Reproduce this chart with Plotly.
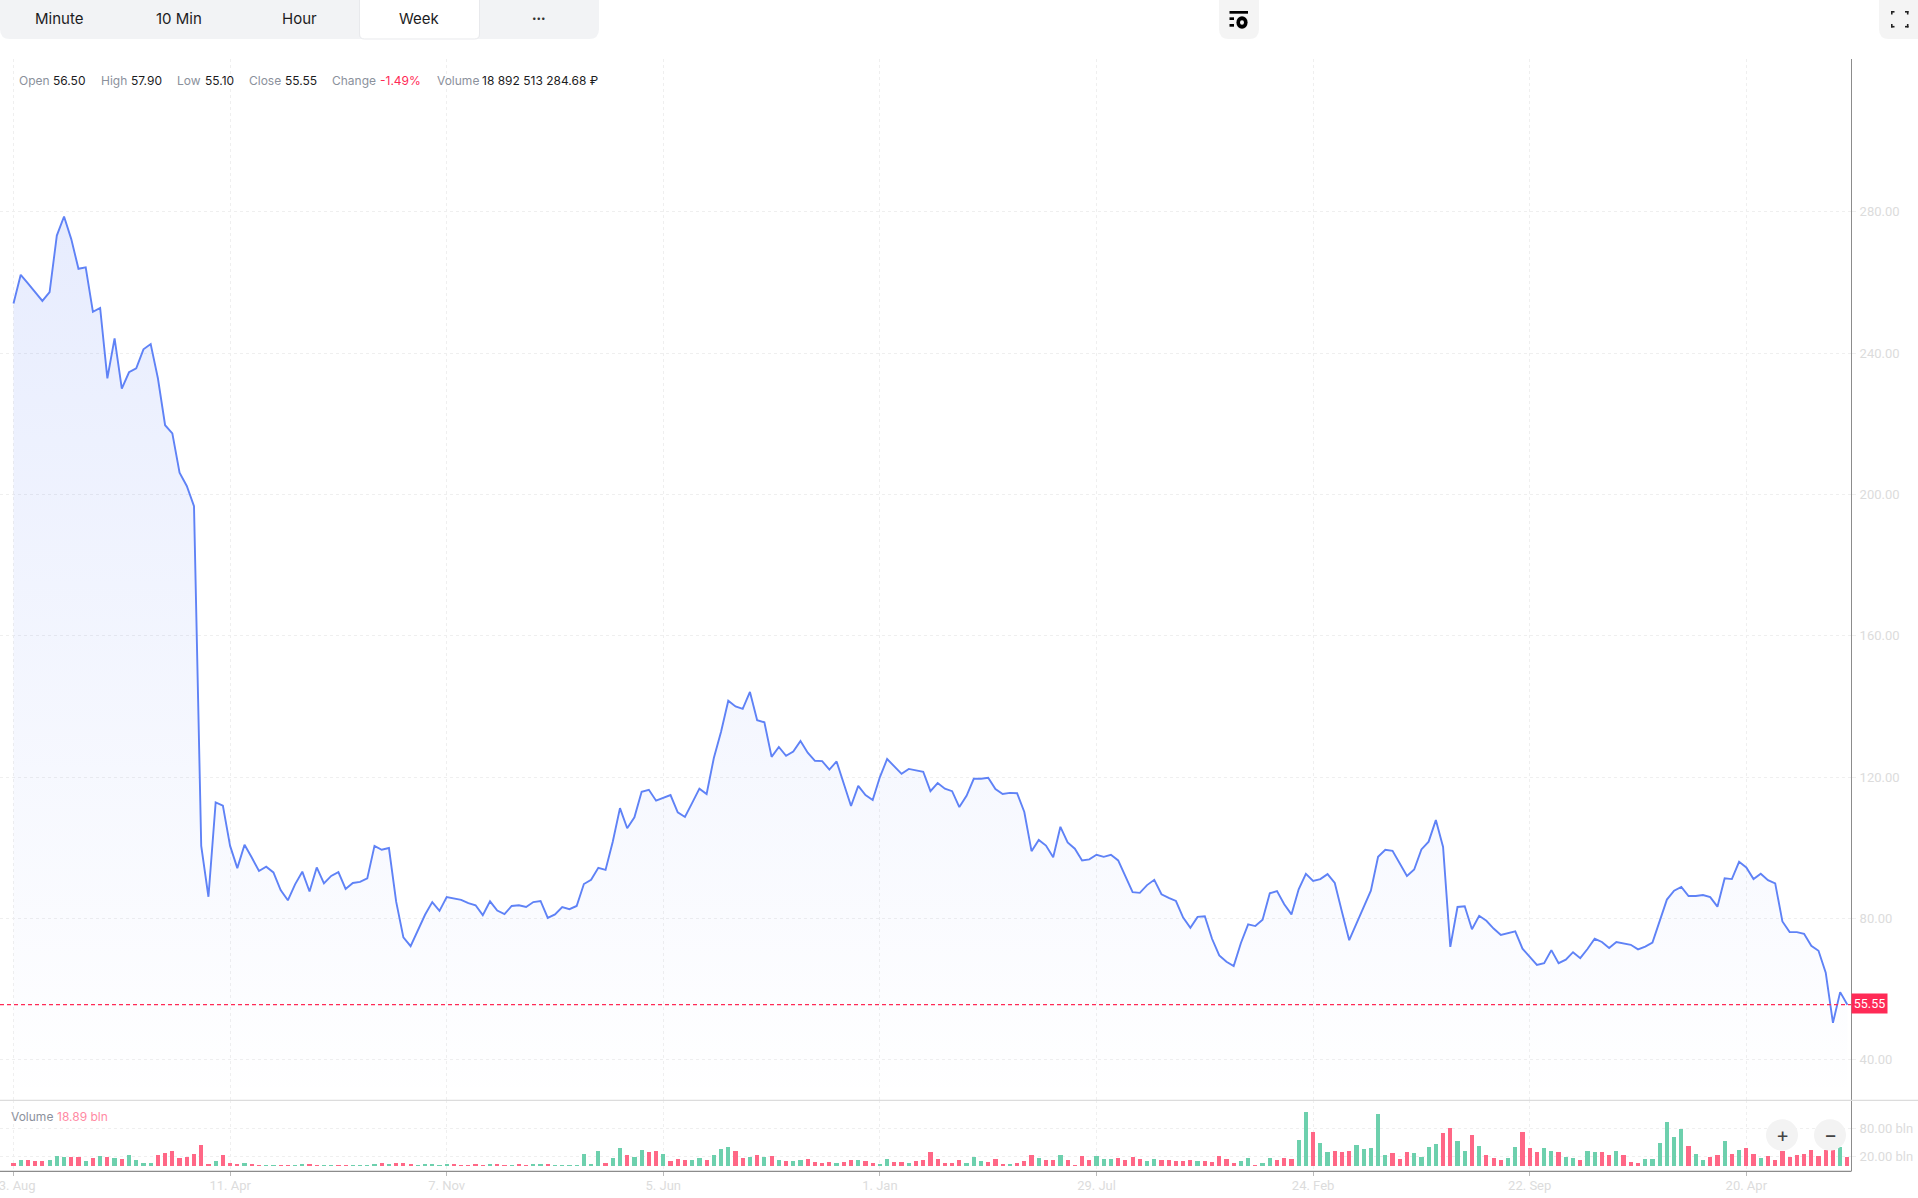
import plotly.graph_objects as go

W, H = 1918, 1198

close_prices = [
 254.1,262.2,259.8,257.3,254.8,257.3,273.3,278.7,272.3,263.9,
 264.3,251.7,252.8,232.9,244.2,230.0,234.6,235.7,241.1,242.6,
 232.9,219.6,217.3,206.2,202.4,196.7,100.5,86.1,112.8,111.9,
 100.5,94.2,100.8,97.2,93.4,94.6,93.0,88.0,85.1,89.6,
 93.2,87.6,94.4,89.9,92.0,93.1,88.3,90.0,90.3,91.3,
 100.5,99.4,99.9,84.7,74.6,72.1,76.5,81.0,84.6,82.1,
 86.0,85.6,85.2,84.3,83.7,80.9,84.8,82.2,81.2,83.5,
 83.7,83.2,84.6,84.9,80.1,81.1,83.2,82.6,83.5,89.7,
 90.9,94.3,93.7,101.7,111.2,105.5,108.6,115.8,116.4,113.3,
 114.2,114.9,110.0,108.7,112.7,116.7,115.2,125.4,132.8,141.6,
 140.0,139.3,144.1,136.1,135.5,125.7,128.5,126.0,127.2,130.2,
 126.9,124.6,124.5,122.1,124.4,118.0,111.8,117.5,114.9,113.5,
 120.0,125.1,122.9,120.9,122.3,121.8,121.5,116.0,118.3,116.7,
 116.0,111.5,114.7,119.5,119.5,119.8,116.6,115.2,115.5,115.4,
 110.1,99.0,102.2,100.6,97.3,105.9,101.5,99.7,96.4,96.7,
 98.0,97.4,98.0,96.4,91.7,87.4,87.2,89.4,90.9,86.8,
 85.8,84.9,80.2,77.3,80.4,80.6,74.2,69.5,67.7,66.5,
 73.0,78.3,77.8,79.6,87.1,87.7,84.0,81.1,88.2,92.6,
 90.6,91.1,92.5,90.0,81.8,73.8,78.5,83.2,87.8,97.4,
 99.4,99.1,95.5,92.0,93.8,99.5,101.7,107.8,100.2,71.9,
 83.2,83.4,76.9,80.7,79.3,77.1,75.3,75.8,76.3,71.4,
 69.1,66.8,67.3,71.0,67.3,68.3,70.4,68.7,71.3,74.2,
 73.3,71.6,73.3,73.0,72.5,71.2,72.0,73.1,79.2,85.3,
 87.8,88.9,86.3,86.3,86.6,86.0,83.3,91.3,91.1,96.0,
 94.4,91.1,92.6,90.8,89.9,79.1,76.1,76.1,75.6,72.2,
 70.8,64.6,50.4,59.1,55.55,
]

volumes_bln = [
 6.3,12.6,12.6,10.5,10.5,12.6,21,18.9,18.9,18.9,
 10.5,16.8,21,18.9,16.8,14.7,23,12.6,6.3,6.3,
 23,27.3,31.5,16.8,18.9,25.2,44,4.2,10.5,23,
 6.3,4.2,6.3,2,0.7,1.5,1.5,1.5,1.5,1.5,
 4,4,1.5,1.5,1.5,1.5,1.5,1.5,1.5,1.5,
 4,6,4,6,6,4,1.5,4,4,1.5,
 4,4,1.5,0.7,4,1.5,4,4,0.7,1.5,
 4,1.5,4,4,4,1.5,1.5,1.5,1.5,25,
 4,31,6,17,38,23,19,33.5,29,31,
 25,10.5,14.7,12.6,12.6,16.8,12.6,23,35.6,40,
 31.5,16.8,19,23,19,21,12.6,10.5,10.5,12.6,
 14.7,8.4,6.3,8.4,6.3,8.4,12.6,12.6,10.5,6.3,
 4.2,14.7,8.4,8.4,6.3,10.5,12.6,29,14.7,6.3,
 6.3,12.6,6.3,19,10.5,8.4,14.7,4.2,4.2,6.3,
 10.5,23,16.8,12.6,12.6,23,12.6,1.4,21,12.6,
 21,14.7,14.7,16.8,12.6,19,14.7,10.5,14.7,12.6,
 12.6,10.5,10.5,12.6,10.5,10.5,8.4,21,14.7,6.3,
 10.5,16.8,1.4,6.3,16.8,12.6,17,14.7,54.5,113,
 71,48,29,31.5,29,31.5,44,35.6,37.7,109,
 23,27,14.7,29,27,19,40,46,69,80,
 52,31.5,65,42,23,17,12.6,17,40,71,
 37.7,29,37.7,31.5,29,19,17,12.6,31.5,29,
 29,23,31.5,23,8.4,6.3,14.7,14.7,48,92,
 61,78,42,25,12.6,19,23,52,25,33.5,
 37.7,25,17,21,12.6,31.5,19,23,25,33.5,
 21,33.5,33.5,40,18.89,
]

bar_dirs = list(
 "duddduuudd" "udududuuuu" "ddddddddud" "ddudduuddu" "udduudduuu"
 "ududdduuuu" "uddddduddu" "dduuduuuuu" "uuduuduudd" "uddduuduuu"
 "ddudududuu" "ddddudduDD".lower() +
 "uuddudd" "ddd" "dduuuddd" "ud" "ddudduddd" "d" "uuuddd" "duud" "ddddu" "ddddd"
 "uuduudd" "duu" "duuddd" "uuuu" "uddd" "uuuudd" "uududd" "duud"
 "dduuduuduu" "dduddd" "uuuu" "uuduudd" "udu" "dduddddddd" "dddud"
)

tick_weeks = [0, 30, 60, 90, 120, 150, 180, 210, 240]
tick_labels = ["23. Aug", "11. Apr", "7. Nov", "5. Jun", "1. Jan", "29. Jul", "24. Feb", "22. Sep", "20. Apr"]
price_ticks = [40, 80, 120, 160, 200, 240, 280]
volume_ticks = [20, 80]
volume_tick_labels = ["20.00 bln", "80.00 bln"]
last_close = 55.55

weeks = list(range(len(close_prices)))
assert len(close_prices) == 255 and len(volumes_bln) == 255 and len(bar_dirs) == 255, (len(close_prices), len(volumes_bln), len(bar_dirs))

PX = lambda x: x / W
PY = lambda y: 1 - y / H
GRID = "#efefef"
LAB = "#dcdcdc"
AXIS = "#8c8c8c"
RED = "#ff2a56"
BLUE = "#5f82f6"

fig = go.Figure()
fig.add_trace(go.Scatter(
    x=weeks, y=close_prices, mode="lines", xaxis="x", yaxis="y",
    line=dict(color=BLUE, width=1.9),
    fill="tozeroy",
    fillcolor="rgba(0,0,0,0)",
    fillgradient=dict(type="vertical", start=28.5, stop=279,
                      colorscale=[[0, "rgba(70,110,245,0.0)"], [1, "rgba(70,110,245,0.13)"]]),
    hoverinfo="skip", showlegend=False))
fig.add_trace(go.Bar(
    x=weeks, y=volumes_bln, xaxis="x", yaxis="y2", width=0.58,
    marker=dict(color=["#6dd0ad" if d == "u" else "#ff6786" for d in bar_dirs], line_width=0),
    hoverinfo="skip", showlegend=False))

shapes = []
def rpath(x0, y0, x1, y1, tl, tr, br, bl, fill, line=None):
    k = lambda x, y: f"{PX(x):.6f} {PY(y):.6f}"
    p = f"M {k(x0+tl,y0)} L {k(x1-tr,y0)} Q {k(x1,y0)} {k(x1,y0+tr)} L {k(x1,y1-br)} Q {k(x1,y1)} {k(x1-br,y1)} L {k(x0+bl,y1)} Q {k(x0,y1)} {k(x0,y1-bl)} L {k(x0,y0+tl)} Q {k(x0,y0)} {k(x0+tl,y0)} Z"
    shapes.append(dict(type="path", xref="paper", yref="paper", path=p, fillcolor=fill,
                       line=dict(color=line or fill, width=1 if line else 0)))
def rect(x0, y0, x1, y1, fill):
    shapes.append(dict(type="rect", xref="paper", yref="paper", x0=PX(x0), x1=PX(x1), y0=PY(y1), y1=PY(y0),
                       fillcolor=fill, line_width=0))
def circle(cx, cy, rx, ry, fill):
    shapes.append(dict(type="circle", xref="paper", yref="paper", x0=PX(cx-rx), x1=PX(cx+rx), y0=PY(cy+ry), y1=PY(cy-ry),
                       fillcolor=fill, line_width=0))
def hline(x0, x1, y, color, width=1, dash="solid"):
    shapes.append(dict(type="line", xref="paper", yref="paper", x0=PX(x0), x1=PX(x1), y0=PY(y), y1=PY(y),
                       line=dict(color=color, width=width, dash=dash)))

# toolbar
rpath(0, -6, 599, 39, 0, 0, 10, 10, "#f2f3f5")
rpath(359.5, -6, 479.5, 39, 0, 0, 5, 5, "#ffffff", "#e8e9ec")
rpath(1219, -6, 1259, 39, 0, 0, 10, 10, "#f4f4f4")
rpath(1879, -6, 1930, 39, 0, 0, 10, 10, "#f4f4f4")
# settings icon
rect(1229.5, 11, 1248, 13.7, "#000000")
rect(1229.5, 17.3, 1234, 20, "#000000")
rect(1229.5, 24, 1234, 26.7, "#000000")
circle(1242, 22.5, 5.6, 6.2, "#000000")
circle(1242, 22.5, 2, 2.2, "#f4f4f4")
# fullscreen icon
for (cx, cy, sx, sy) in [(1891, 11, 1, 1), (1908.5, 11, -1, 1), (1891, 27.5, 1, -1), (1908.5, 27.5, -1, -1)]:
    rect(min(cx, cx + sx*3.5), min(cy, cy + sy*1.6), max(cx, cx + sx*3.5), max(cy, cy + sy*1.6), "#222222")
    rect(min(cx, cx + sx*1.6), min(cy, cy + sy*3.5), max(cx, cx + sx*1.6), max(cy, cy + sy*3.5), "#222222")
# pane separator and axis line
hline(0, W, 1100.3, "#dcdcdc", 1.2)
hline(0, 1851.5, 1171.3, AXIS, 1.2)
# last price line
shapes.append(dict(type="line", xref="paper", yref="y", x0=0, x1=PX(1851), y0=last_close, y1=last_close,
                   line=dict(color=RED, width=1.3, dash="4px,3px")))
# zoom buttons
circle(1782, 1135, 16, 15.7, "#f3f3f3")
circle(1830, 1135, 16, 15.7, "#f3f3f3")

anns = []
def text(x, y, s, color, size=12, family="Inter", anchor="left", **kw):
    anns.append(dict(xref="paper", yref="paper", x=PX(x), y=PY(y), text=s, showarrow=False,
                     xanchor=anchor, yanchor="middle", font=dict(family=family, size=size, color=color),
                     borderpad=0, borderwidth=0, **kw))

for label, cx in [("Minute", 59), ("10 Min", 179), ("Hour", 299), ("Week", 419)]:
    text(cx, 18, label, "#1c1c1e", 15, anchor="center")
text(539, 18, "•••", "#333333", 8, anchor="center")

GREY = "#8b919c"
INK = "#1c1c1e"
for x, s, c in [(19.2, "Open", GREY), (53, "56.50", INK), (101, "High", GREY), (131, "57.90", INK),
                (177, "Low", GREY), (204.5, "55.10", INK), (249.4, "Close", GREY), (285.3, "55.55", INK),
                (332, "Change", GREY), (380.4, "-1.49%", RED), (436.7, "Volume", GREY),
                (482, "18 892 513 284.68 ₽", INK)]:
    text(x, 80.7, s, c, 12)
text(11, 1116.5, "Volume", GREY, 12)
text(57, 1116.5, "18.89 bln", "#ff8aa3", 12)
text(1782, 1135, "+", "#444444", 20, anchor="center")
text(1830, 1135, "−", "#444444", 20, anchor="center")
anns.append(dict(xref="paper", yref="y", x=PX(1851), y=last_close, xanchor="left", yanchor="middle",
                 text=f"{last_close:.2f}", showarrow=False, bgcolor=RED, width=35, height=19, borderpad=0,
                 yshift=1, font=dict(family="Roboto", size=12.5, color="#ffffff")))

fig.update_layout(
    width=W, height=H, margin=dict(l=0, r=0, t=0, b=0), autosize=False,
    paper_bgcolor="#ffffff", plot_bgcolor="#ffffff", bargap=0, showlegend=False,
    shapes=shapes, annotations=anns, hovermode=False,
    xaxis=dict(domain=[0, PX(1851)], range=[-1.87, 254.5], anchor="y2", automargin=False,
               tickmode="array", tickvals=tick_weeks, ticktext=tick_labels,
               showgrid=True, gridcolor=GRID, griddash="dot", gridwidth=1, zeroline=False,
               ticks="outside", ticklen=4, tickcolor="#bbbbbb", tickwidth=1, showline=False,
               tickfont=dict(family="Roboto", size=13, color=LAB), ticklabeloverflow="allow",
               ticklabelstandoff=-2),
    yaxis=dict(domain=[PY(1100.3), PY(59)], range=[28.47, 323.3], anchor="x", side="right", automargin=False,
               tickmode="array", tickvals=price_ticks, tickformat=".2f",
               showgrid=True, gridcolor=GRID, griddash="dot", gridwidth=1, zeroline=False,
               ticks="outside", ticklen=4, tickcolor=GRID, showline=True, linecolor=AXIS, linewidth=1,
               tickfont=dict(family="Roboto", size=13, color=LAB), ticklabelstandoff=1),
    yaxis2=dict(domain=[PY(1171.3), PY(1100.3)], range=[-11.1, 138.5], anchor="x", side="right", automargin=False,
                tickmode="array", tickvals=volume_ticks, ticktext=volume_tick_labels,
                showgrid=True, gridcolor=GRID, griddash="dot", gridwidth=1, zeroline=False,
                ticks="outside", ticklen=4, tickcolor=GRID, showline=True, linecolor=AXIS, linewidth=1,
                tickfont=dict(family="Roboto", size=13, color=LAB), ticklabelstandoff=1),
)

fig.write_html("out.html", config=dict(displayModeBar=False, responsive=False),
               post_script="document.body.style.margin='0';document.body.style.overflow='hidden';")
